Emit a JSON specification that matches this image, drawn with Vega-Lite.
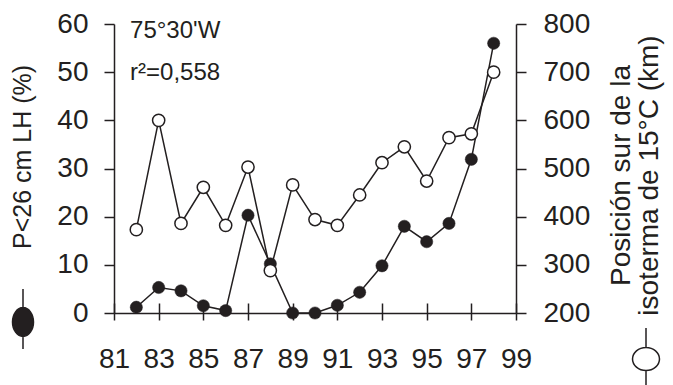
{
  "$schema": "https://vega.github.io/schema/vega-lite/v6.json",
  "width": 402,
  "height": 289,
  "autosize": {"type": "none"},
  "padding": {"left": 114, "top": 24, "right": 157, "bottom": 72},
  "background": "white",
  "config": {
    "view": {"stroke": null},
    "font": "Liberation Sans",
    "axis": {
      "grid": false,
      "domainColor": "#231f20",
      "tickColor": "#231f20",
      "labelColor": "#231f20",
      "titleColor": "#231f20",
      "domainWidth": 1.5,
      "tickWidth": 1.5,
      "labelFont": "Liberation Sans",
      "titleFont": "Liberation Sans",
      "labelFontSize": 28,
      "titleFontWeight": "normal",
      "labelFlush": false,
      "labelOverlap": false
    }
  },
  "datasets": {
    "d": [
      {"year": 82, "p": 1.2, "km": 373},
      {"year": 83, "p": 5.3, "km": 600},
      {"year": 84, "p": 4.6, "km": 386},
      {"year": 85, "p": 1.5, "km": 461},
      {"year": 86, "p": 0.5, "km": 382},
      {"year": 87, "p": 20.3, "km": 503},
      {"year": 88, "p": 10.2, "km": 288},
      {"year": 89, "p": 0, "km": 466},
      {"year": 90, "p": 0, "km": 394},
      {"year": 91, "p": 1.6, "km": 382},
      {"year": 92, "p": 4.3, "km": 445},
      {"year": 93, "p": 9.8, "km": 512},
      {"year": 94, "p": 18, "km": 545},
      {"year": 95, "p": 14.8, "km": 474},
      {"year": 96, "p": 18.6, "km": 564},
      {"year": 97, "p": 31.9, "km": 572},
      {"year": 98, "p": 56, "km": 700}
    ],
    "notes": [
      {"label": "75°30'W", "tx": 81.72, "ty": 57.1},
      {"label": "r²=0,558", "tx": 81.72, "ty": 48.4}
    ]
  },
  "layer": [
    {
      "layer": [
        {
          "data": {"name": "d"},
          "mark": {"type": "line", "color": "#231f20", "strokeWidth": 1.5},
          "encoding": {
            "x": {
              "field": "year", "type": "quantitative",
              "scale": {"domain": [81, 99], "nice": false, "zero": false},
              "axis": {
                "orient": "bottom",
                "values": [81, 82, 83, 84, 85, 86, 87, 88, 89, 90, 91, 92, 93, 94, 95, 96, 97, 98, 99],
                "labelExpr": "datum.value % 2 == 1 ? datum.label : ''",
                "tickSize": 7,
                "labelPadding": 25,
                "title": null
              }
            },
            "y": {
              "field": "p", "type": "quantitative",
              "scale": {"domain": [0, 60], "nice": false, "zero": false},
              "axis": {
                "orient": "left",
                "values": [0, 10, 20, 30, 40, 50, 60],
                "tickSize": 10,
                "labelPadding": 16,
                "title": "P<26 cm LH (%)",
                "titleFontSize": 25,
                "titleAngle": 270,
                "titleX": -91.5,
                "titleY": 132.5,
                "titleBaseline": "middle",
                "titleAlign": "center"
              }
            }
          }
        },
        {
          "data": {"name": "d"},
          "mark": {"type": "point", "filled": true, "fill": "#231f20", "strokeWidth": 0.5, "size": 150, "opacity": 1},
          "encoding": {
            "x": {"field": "year", "type": "quantitative"},
            "y": {"field": "p", "type": "quantitative"},
            "stroke": {
              "datum": "P<26 cm LH",
              "scale": {"range": ["#231f20"]},
              "legend": {
                "orient": "none",
                "legendX": -122,
                "legendY": 264,
                "title": null,
                "labelExpr": "''",
                "padding": 0,
                "symbolType": "M0,-1L0,-0.38M0.35,0.1A0.35,0.48,0,1,1,-0.35,0.1A0.35,0.48,0,1,1,0.35,0.1ZM0,0.58L0,1",
                "symbolSize": 3600,
                "encode": {
                  "symbols": {
                    "update": {
                      "shape": {"value": "M0,-1L0,-0.38M0.35,0.1A0.35,0.48,0,1,1,-0.35,0.1A0.35,0.48,0,1,1,0.35,0.1ZM0,0.58L0,1"},
                      "size": {"value": 3600},
                      "fill": {"value": "#231f20"},
                      "fillOpacity": {"value": 1},
                      "stroke": {"value": "#231f20"},
                      "strokeOpacity": {"value": 1},
                      "strokeWidth": {"value": 1.5},
                      "opacity": {"value": 1}
                    }
                  }
                }
              }
            }
          }
        },
        {
          "data": {"name": "notes"},
          "mark": {"type": "text", "align": "left", "baseline": "alphabetic", "fontSize": 24, "color": "#231f20", "font": "Liberation Sans"},
          "encoding": {
            "x": {"field": "tx", "type": "quantitative", "scale": {"domain": [81, 99], "nice": false, "zero": false}},
            "y": {"field": "ty", "type": "quantitative", "scale": {"domain": [0, 60], "nice": false, "zero": false}},
            "text": {"field": "label"}
          }
        }
      ]
    },
    {
      "data": {"name": "d"},
      "encoding": {
        "x": {
          "field": "year", "type": "quantitative",
          "scale": {"domain": [81, 99], "nice": false, "zero": false},
          "axis": {
            "orient": "bottom",
            "offset": -10,
            "values": [81, 83, 85, 87, 89, 91, 93, 95, 97, 99],
            "tickSize": 10,
            "labels": false,
            "domain": false,
            "title": null
          }
        },
        "y": {
          "field": "km", "type": "quantitative",
          "scale": {"domain": [200, 800], "nice": false, "zero": false},
          "axis": {
            "orient": "right",
            "values": [200, 300, 400, 500, 600, 700, 800],
            "tickSize": 10,
            "labelPadding": 17,
            "title": ["Posición sur de la", "isoterma de 15°C (km)"],
            "titleFontSize": 28,
            "titleLineHeight": 28,
            "titleAngle": 270,
            "titleX": 105,
            "titleY": 151,
            "titleBaseline": "middle",
            "titleAlign": "center"
          }
        }
      },
      "layer": [
        {"mark": {"type": "line", "color": "#231f20", "strokeWidth": 1.5}},
        {
          "mark": {"type": "point", "filled": true, "fill": "white", "strokeWidth": 1.5, "size": 150, "opacity": 1},
          "encoding": {
            "stroke": {
              "datum": "km",
              "scale": {"range": ["#231f20"]},
              "legend": {
                "orient": "none",
                "legendX": 500,
                "legendY": 303,
                "title": null,
                "labelExpr": "''",
                "padding": 0,
                "symbolType": "M0,-1L0,-0.37M0.435,0A0.435,0.37,0,1,1,-0.435,0A0.435,0.37,0,1,1,0.435,0ZM0,0.37L0,1",
                "symbolSize": 3844,
                "encode": {
                  "symbols": {
                    "update": {
                      "shape": {"value": "M0,-1L0,-0.37M0.435,0A0.435,0.37,0,1,1,-0.435,0A0.435,0.37,0,1,1,0.435,0ZM0,0.37L0,1"},
                      "size": {"value": 3844},
                      "fill": {"value": "white"},
                      "stroke": {"value": "#231f20"},
                      "strokeWidth": {"value": 1.5},
                      "opacity": {"value": 1}
                    }
                  }
                }
              }
            }
          }
        }
      ]
    }
  ],
  "resolve": {"scale": {"y": "independent", "stroke": "independent"}, "axis": {"x": "independent"}}
}
